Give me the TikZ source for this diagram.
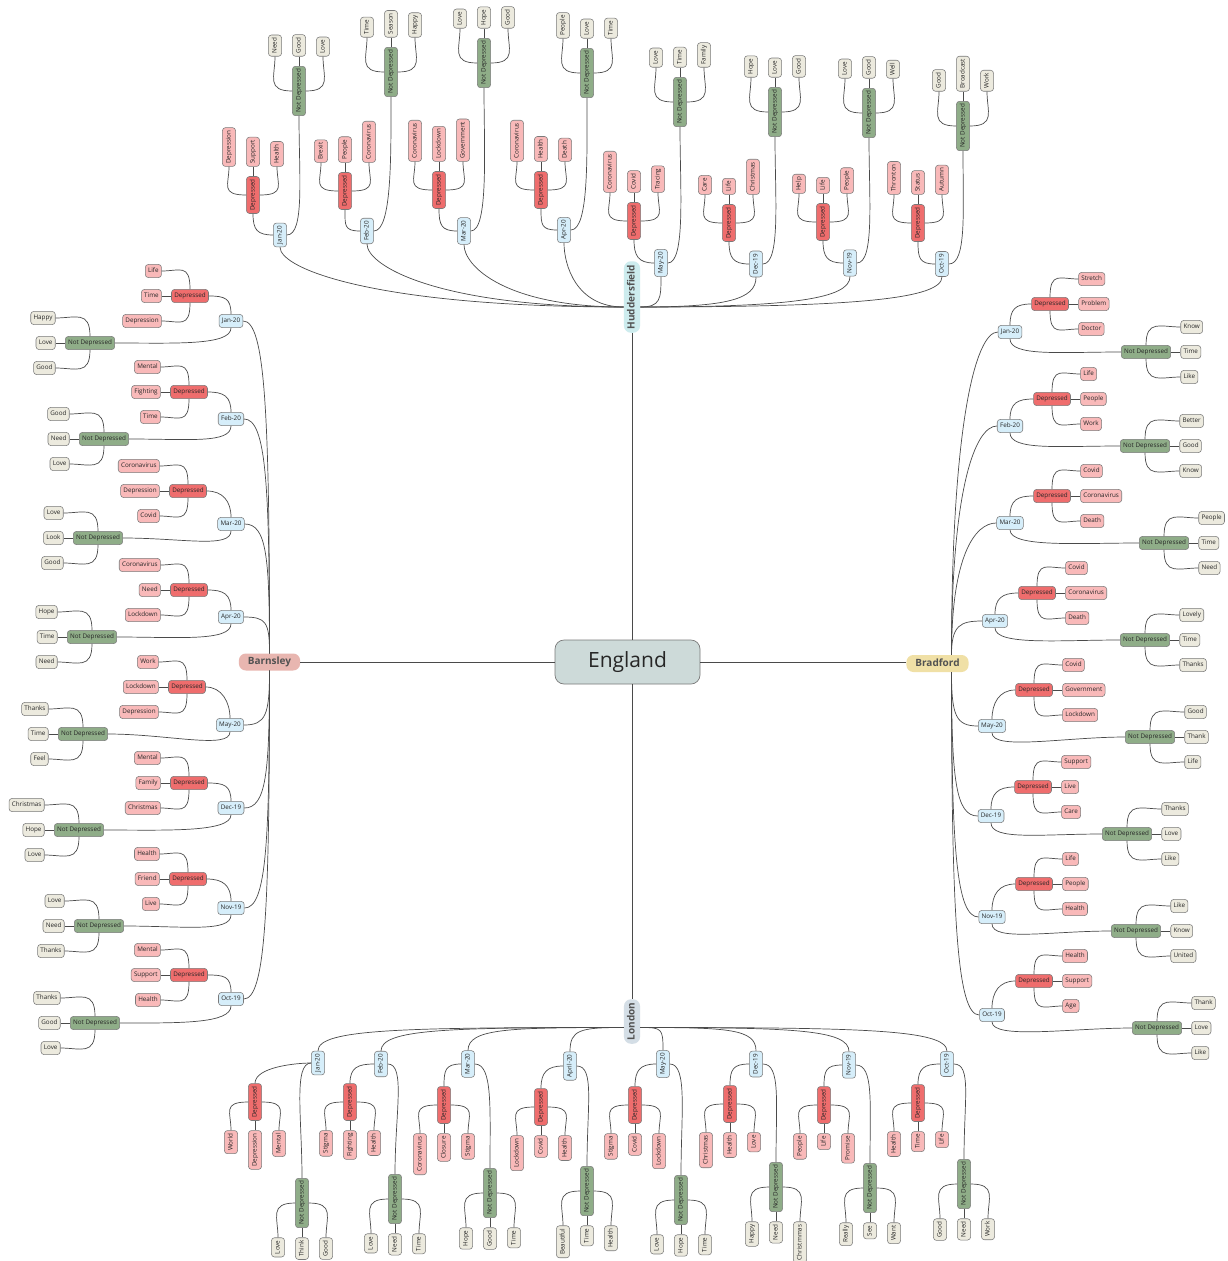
\documentclass[tikz,border=0pt]{standalone}
\usepackage{fontspec}
\setmainfont{Open Sans}
\usetikzlibrary{calc}
\definecolor{depc}{HTML}{EF6D6D}
\definecolor{depwc}{HTML}{F9B9B9}
\definecolor{ndc}{HTML}{8FAD88}
\definecolor{ndwc}{HTML}{ECEADE}
\definecolor{datec}{HTML}{D6EEFA}
\definecolor{engc}{HTML}{CDDAD9}
\definecolor{hudc}{HTML}{CDECEE}
\definecolor{barc}{HTML}{E8B6B0}
\definecolor{brac}{HTML}{F0E0A6}
\definecolor{lonc}{HTML}{D4DEE6}
\definecolor{bordc}{HTML}{7A7A7A}
\definecolor{linkc}{HTML}{4A4A4A}
\definecolor{txtc}{HTML}{262626}
\newcommand\smf{\fontsize{6.3pt}{7.5pt}\selectfont}
\newcommand\vtx[1]{\rotatebox{90}{\rule[-1.5pt]{0pt}{6.3pt}#1}}
\newcommand\vcity[1]{\rotatebox{90}{\rule[-2.5pt]{0pt}{10pt}#1}}
\tikzset{
  hb/.style={draw=bordc, line width=0.55pt, rounded corners=3pt, fill=#1,
    inner xsep=2.8pt, inner ysep=3.4pt, text height=4.8pt, text depth=1.5pt,
    font=\smf, text=txtc},
  vb/.style={draw=bordc, line width=0.55pt, rounded corners=3pt, fill=#1,
    inner xsep=3.4pt, inner ysep=2.8pt, font=\smf, text=txtc},
  link/.style={draw=linkc, line width=0.7pt},
  city/.style={draw=none, rounded corners=7pt, fill=#1,
    font=\fontsize{10pt}{12pt}\selectfont\bfseries, text=black!68},
}
\begin{document}
\begin{tikzpicture}[x=1pt,y=1pt]
\fill[white] (0,0) rectangle (1227,-1261);
\useasboundingbox (0,0) rectangle (1227,-1261);

% centre and cities
\node[draw=bordc, line width=0.7pt, rounded corners=9pt, fill=engc,
  minimum width=145pt, minimum height=44pt,
  font=\fontsize{21pt}{25pt}\selectfont, text=black!85] (eng) at (627.5,-662) {England};
\node[city=hudc, inner xsep=3pt, inner ysep=3.5pt] (hud) at (632,-297) {\vcity{Huddersfield}};
\node[city=lonc, inner xsep=3pt, inner ysep=3.5pt] (lon) at (632,-1021.5) {\vcity{London}};
\node[city=barc, inner xsep=9pt, inner ysep=4pt, text height=7pt, text depth=2pt] (bar) at (269.5,-662) {Barnsley};
\node[city=brac, inner xsep=9pt, inner ysep=4pt, text height=7pt, text depth=2pt] (bra) at (937.5,-663.5) {Bradford};

\draw[link] (eng.north -| hud.south) -- (hud.south);
\draw[link] (eng.south -| lon.north) -- (lon.north);
\draw[link] (eng.west) -- (eng.west -| bar.east);
\draw[link] (eng.east) -- (eng.east -| bra.west);

\coordinate (barT) at (bar.north);
\coordinate (barB) at (bar.south);
\coordinate (braT) at ($(bra.north)+(14,0)$);
\coordinate (braB) at ($(bra.south)+(14,0)$);
\coordinate (hudL) at ($(hud.west)+(0,-10)$);
\coordinate (hudR) at ($(hud.east)+(0,-10)$);
\coordinate (lonL) at ($(lon.west)+(0,-6)$);
\coordinate (lonR) at ($(lon.east)+(0,-6)$);

% ---------------- Barnsley (left) ----------------
\foreach \id/\lab/\dX/\dY/\pX/\pY/\nX/\nY/\kA/\kB/\kC/\mA/\mB/\mC in {
 B1/Jan-20/231/321/190/296/90/343/Life/Time/Depression/Happy/Love/Good,
 B2/Feb-20/231/419/189/392/104/439/Mental/Fighting/Time/Good/Need/Love,
 B3/Mar-20/231/524/188/491/98/538/Coronavirus/Depression/Covid/Love/Look/Good,
 B4/Apr-20/231/617/189/590/92/637/Coronavirus/Need/Lockdown/Hope/Time/Need,
 B5/May-20/230/725/187/687/83/734/Work/Lockdown/Depression/Thanks/Time/Feel,
 B6/Dec-19/231/808/189/783/79/830/Mental/Family/Christmas/Christmas/Hope/Love,
 B7/Nov-19/231/908/188/879/99/926/Health/Friend/Live/Love/Need/Thanks,
 B8/Oct-19/231/999/189/975/95/1023/Mental/Support/Health/Thanks/Good/Love}{
  \node[hb=datec] (\id d) at (\dX,-\dY) {\lab};
  \node[hb=depc] (\id p) at (\pX,-\pY) {Depressed};
  \node[hb=ndc] (\id n) at (\nX,-\nY) {Not Depressed};
  \node[hb=depwc, anchor=east] (\id p1) at ($(\id p.west)+(-9.5,25)$) {\kA};
  \node[hb=depwc, anchor=east] (\id p2) at ($(\id p.west)+(-9.5,0)$) {\kB};
  \node[hb=depwc, anchor=east] (\id p3) at ($(\id p.west)+(-9.5,-25)$) {\kC};
  \node[hb=ndwc, anchor=east] (\id n1) at ($(\id n.west)+(-9.5,25)$) {\mA};
  \node[hb=ndwc, anchor=east] (\id n2) at ($(\id n.west)+(-9.5,0)$) {\mB};
  \node[hb=ndwc, anchor=east] (\id n3) at ($(\id n.west)+(-9.5,-25)$) {\mC};
  \draw[link] (\id p.north) to[out=90,in=0,out distance=26pt,in distance=18pt] (\id p1.east);
  \draw[link] (\id p.west) -- (\id p2.east);
  \draw[link] (\id p.south) to[out=-90,in=0,out distance=26pt,in distance=18pt] (\id p3.east);
  \draw[link] (\id n.north) to[out=90,in=0,out distance=26pt,in distance=20pt] (\id n1.east);
  \draw[link] (\id n.west) -- (\id n2.east);
  \draw[link] (\id n.south) to[out=-90,in=0,out distance=26pt,in distance=20pt] (\id n3.east);
  \draw[link] (\id d.north) to[out=90,in=0,out distance=16pt,in distance=16pt] (\id p.east);
  \draw[link] (\id d.south) to[out=-90,in=0,out distance=18pt,in distance=60pt] (\id n.east);
  \pgfmathsetmacro\od{0.7*abs(662-\dY)}
  \ifnum\dY<662
    \draw[link] (barT) to[out=90,in=0,out distance=\od pt,in distance=22pt] (\id d.east);
  \else
    \draw[link] (barB) to[out=-90,in=0,out distance=\od pt,in distance=22pt] (\id d.east);
  \fi
}

% ---------------- Bradford (right) ----------------
\foreach \id/\lab/\dX/\dY/\pX/\pY/\nX/\nY/\kA/\kB/\kC/\mA/\mB/\mC in {
 R1/Jan-20/1010/332/1050/304/1146/352/Stretch/Problem/Doctor/Know/Time/Like,
 R2/Feb-20/1010/426/1052/399/1145/446/Life/People/Work/Better/Good/Know,
 R3/Mar-20/1010/523/1052/496/1164/543/Covid/Coronavirus/Death/People/Time/Need,
 R4/Apr-20/995/621/1037/593/1145/640/Covid/Coronavirus/Death/Lovely/Time/Thanks,
 R5/May-20/992/726/1034/690/1150/737/Covid/Government/Lockdown/Good/Thank/Life,
 R6/Dec-19/991/816/1033/787/1127/834/Support/Live/Care/Thanks/Love/Like,
 R7/Nov-19/992/917/1034/884/1136/931/Life/People/Health/Like/Know/United,
 R8/Oct-19/992/1015/1034/981/1157/1028/Health/Support/Age/Thank/Love/Like}{
  \node[hb=datec] (\id d) at (\dX,-\dY) {\lab};
  \node[hb=depc] (\id p) at (\pX,-\pY) {Depressed};
  \node[hb=ndc] (\id n) at (\nX,-\nY) {Not Depressed};
  \node[hb=depwc, anchor=west] (\id p1) at ($(\id p.east)+(9.5,25)$) {\kA};
  \node[hb=depwc, anchor=west] (\id p2) at ($(\id p.east)+(9.5,0)$) {\kB};
  \node[hb=depwc, anchor=west] (\id p3) at ($(\id p.east)+(9.5,-25)$) {\kC};
  \node[hb=ndwc, anchor=west] (\id n1) at ($(\id n.east)+(9.5,25)$) {\mA};
  \node[hb=ndwc, anchor=west] (\id n2) at ($(\id n.east)+(9.5,0)$) {\mB};
  \node[hb=ndwc, anchor=west] (\id n3) at ($(\id n.east)+(9.5,-25)$) {\mC};
  \draw[link] (\id p.north) to[out=90,in=180,out distance=26pt,in distance=18pt] (\id p1.west);
  \draw[link] (\id p.east) -- (\id p2.west);
  \draw[link] (\id p.south) to[out=-90,in=180,out distance=26pt,in distance=18pt] (\id p3.west);
  \draw[link] (\id n.north) to[out=90,in=180,out distance=26pt,in distance=20pt] (\id n1.west);
  \draw[link] (\id n.east) -- (\id n2.west);
  \draw[link] (\id n.south) to[out=-90,in=180,out distance=26pt,in distance=20pt] (\id n3.west);
  \draw[link] (\id d.north) to[out=90,in=180,out distance=16pt,in distance=16pt] (\id p.west);
  \draw[link] (\id d.south) to[out=-90,in=180,out distance=18pt,in distance=60pt] (\id n.west);
  \pgfmathsetmacro\od{0.7*abs(663-\dY)}
  \ifnum\dY<663
    \draw[link] (braT) to[out=90,in=180,out distance=\od pt,in distance=22pt] (\id d.west);
  \else
    \draw[link] (braB) to[out=-90,in=180,out distance=\od pt,in distance=22pt] (\id d.west);
  \fi
}

% ---------------- Huddersfield (top) ----------------
\foreach \id/\lab/\dX/\dY/\pX/\pY/\nX/\nY/\kA/\kB/\kC/\mA/\mB/\mC in {
 H1/Jan-20/280/235/253/195/299/91/Depression/Support/Health/Need/Good/Love,
 H2/Feb-20/367/231/345/191/391/72/Brexit/People/Coronavirus/Time/Season/Happy,
 H3/Mar-20/464/231/439/190/484/63/Coronavirus/Lockdown/Government/Love/Hope/Good,
 H4/Apr-20/564/230/541/190/587/73/Coronavirus/Health/Death/People/Love/Time,
 H5/May-20/661/263/634/221/680/102/Coronavirus/Covid/Tracing/Love/Time/Family,
 H6/Dec-19/756/264/729/223/775/112/Care/Life/Christmas/Hope/Love/Good,
 H7/Nov-19/850/263/823/222/869/113/Help/Life/People/Love/Good/Well,
 H8/Oct-19/942/264/918/223/963/126/Thronton/Status/Autumn/Good/Broadcast/Work}{
  \node[vb=datec] (\id d) at (\dX,-\dY) {\vtx{\lab}};
  \node[vb=depc] (\id p) at (\pX,-\pY) {\vtx{Depressed}};
  \node[vb=ndc] (\id n) at (\nX,-\nY) {\vtx{Not Depressed}};
  \node[vb=depwc, anchor=south] (\id p1) at ($(\id p.north)+(-24,9.5)$) {\vtx{\kA}};
  \node[vb=depwc, anchor=south] (\id p2) at ($(\id p.north)+(0,9.5)$) {\vtx{\kB}};
  \node[vb=depwc, anchor=south] (\id p3) at ($(\id p.north)+(24,9.5)$) {\vtx{\kC}};
  \node[vb=ndwc, anchor=south] (\id n1) at ($(\id n.north)+(-24,9.5)$) {\vtx{\mA}};
  \node[vb=ndwc, anchor=south] (\id n2) at ($(\id n.north)+(0,9.5)$) {\vtx{\mB}};
  \node[vb=ndwc, anchor=south] (\id n3) at ($(\id n.north)+(24,9.5)$) {\vtx{\mC}};
  \draw[link] (\id p.west) to[out=180,in=-90,out distance=26pt,in distance=18pt] (\id p1.south);
  \draw[link] (\id p.north) -- (\id p2.south);
  \draw[link] (\id p.east) to[out=0,in=-90,out distance=26pt,in distance=18pt] (\id p3.south);
  \draw[link] (\id n.west) to[out=180,in=-90,out distance=26pt,in distance=20pt] (\id n1.south);
  \draw[link] (\id n.north) -- (\id n2.south);
  \draw[link] (\id n.east) to[out=0,in=-90,out distance=26pt,in distance=20pt] (\id n3.south);
  \draw[link] (\id d.west) to[out=180,in=-90,out distance=16pt,in distance=16pt] (\id p.south);
  \draw[link] (\id d.east) to[out=0,in=-90,out distance=18pt,in distance=60pt] (\id n.south);
  \pgfmathsetmacro\od{0.7*abs(632-\dX)}
  \ifnum\dX<632
    \draw[link] (hudL) to[out=180,in=-90,out distance=\od pt,in distance=22pt] (\id d.south);
  \else
    \draw[link] (hudR) to[out=0,in=-90,out distance=\od pt,in distance=22pt] (\id d.south);
  \fi
}

% ---------------- London (bottom) ----------------
\foreach \id/\lab/\dX/\dY/\pX/\pY/\nX/\nY/\kA/\kB/\kC/\mA/\mB/\mC/\sA/\sG in {
 L1/Jan-20/318/1063/255/1102/302/1203/World/Depression/Mental/Love/Think/Good/west/180,
 L2/Feb-20/381/1064/350/1102/395/1199/Stigma/Fighting/Health/Love/Need/Time/east/0,
 L3/Mar-20/468/1064/444/1105/490/1193/Coronavirus/Closure/Stigma/Hope/Good/Time/east/0,
 L4/April-20/570/1066/541/1107/587/1191/Lockdown/Covid/Health/Beautiful/Time/Health/east/0,
 L5/May-20/663/1064/635/1105/681/1200/Stigma/Covid/Lockdown/Love/Hope/Time/east/0,
 L6/Dec-19/756/1064/730/1104/776/1187/Christmas/Health/Love/Happy/Need/Christmmas/east/0,
 L7/Nov-19/849/1065/824/1105/870/1188/People/Life/Promise/Really/See/Want/east/0,
 L8/Oct-19/947/1064/918/1103/964/1184/Health/Time/Life/Good/Need/Work/east/0}{
  \node[vb=datec] (\id d) at (\dX,-\dY) {\vtx{\lab}};
  \node[vb=depc] (\id p) at (\pX,-\pY) {\vtx{Depressed}};
  \node[vb=ndc] (\id n) at (\nX,-\nY) {\vtx{Not Depressed}};
  \node[vb=depwc, anchor=north] (\id p1) at ($(\id p.south)+(-24,-9.5)$) {\vtx{\kA}};
  \node[vb=depwc, anchor=north] (\id p2) at ($(\id p.south)+(0,-9.5)$) {\vtx{\kB}};
  \node[vb=depwc, anchor=north] (\id p3) at ($(\id p.south)+(24,-9.5)$) {\vtx{\kC}};
  \node[vb=ndwc, anchor=north] (\id n1) at ($(\id n.south)+(-24,-9.5)$) {\vtx{\mA}};
  \node[vb=ndwc, anchor=north] (\id n2) at ($(\id n.south)+(0,-9.5)$) {\vtx{\mB}};
  \node[vb=ndwc, anchor=north] (\id n3) at ($(\id n.south)+(24,-9.5)$) {\vtx{\mC}};
  \draw[link] (\id p.west) to[out=180,in=90,out distance=26pt,in distance=18pt] (\id p1.north);
  \draw[link] (\id p.south) -- (\id p2.north);
  \draw[link] (\id p.east) to[out=0,in=90,out distance=26pt,in distance=18pt] (\id p3.north);
  \draw[link] (\id n.west) to[out=180,in=90,out distance=26pt,in distance=20pt] (\id n1.north);
  \draw[link] (\id n.south) -- (\id n2.north);
  \draw[link] (\id n.east) to[out=0,in=90,out distance=26pt,in distance=20pt] (\id n3.north);
  \draw[link] (\id d.west) to[out=180,in=90,out distance=16pt,in distance=16pt] (\id p.north);
  \draw[link] (\id d.\sA) to[out=\sG,in=90,out distance=18pt,in distance=60pt] (\id n.north);
  \pgfmathsetmacro\od{0.7*abs(632-\dX)}
  \ifnum\dX<632
    \draw[link] (lonL) to[out=180,in=90,out distance=\od pt,in distance=22pt] (\id d.north);
  \else
    \draw[link] (lonR) to[out=0,in=90,out distance=\od pt,in distance=22pt] (\id d.north);
  \fi
}
\end{tikzpicture}
\end{document}
